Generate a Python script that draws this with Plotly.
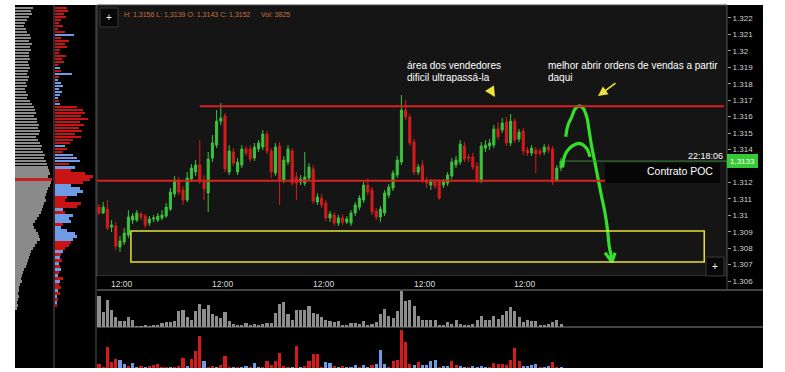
import plotly.graph_objects as go

W, H = 785, 372

# ---------------- data ----------------
candle_idx = list(range(111))
opens = [1.31050, 1.31014, 1.31038, 1.30929, 1.30935, 1.30807, 1.30838, 1.30880, 1.30971, 1.30971,
         1.31008, 1.30996, 1.30953, 1.30978, 1.30971, 1.30984, 1.30996, 1.31038, 1.31130, 1.31215,
         1.31154, 1.31093, 1.31221, 1.31263, 1.31306, 1.31209, 1.31136, 1.31348, 1.31427, 1.31573,
         1.31604, 1.31263, 1.31385, 1.31263, 1.31306, 1.31403, 1.31403, 1.31348, 1.31403, 1.31415,
         1.31494, 1.31391, 1.31257, 1.31421, 1.31215, 1.31324, 1.31391, 1.31233, 1.31203, 1.31196,
         1.31227, 1.31282, 1.31081, 1.31105, 1.31075, 1.30984, 1.31002, 1.30953, 1.30984, 1.30959,
         1.30953, 1.31014, 1.31050, 1.31093, 1.31184, 1.31154, 1.31026, 1.30990, 1.31014, 1.31123,
         1.31166, 1.31245, 1.31324, 1.31640, 1.31598, 1.31446, 1.31263, 1.31306, 1.31215, 1.31184,
         1.31203, 1.31203, 1.31184, 1.31196, 1.31239, 1.31306, 1.31324, 1.31421, 1.31354, 1.31354,
         1.31300, 1.31215, 1.31409, 1.31421, 1.31427, 1.31525, 1.31519, 1.31567, 1.31440, 1.31573,
         1.31464, 1.31513, 1.31397, 1.31379, 1.31397, 1.31391, 1.31385, 1.31415, 1.31403, 1.31215, 1.31288]
highs = [1.31069, 1.31081, 1.31093, 1.30971, 1.30959, 1.30874, 1.30923, 1.31032, 1.31014, 1.31032,
         1.31020, 1.31008, 1.30996, 1.31002, 1.31014, 1.31032, 1.31075, 1.31166, 1.31239, 1.31233,
         1.31178, 1.31263, 1.31312, 1.31336, 1.31458, 1.31245, 1.31385, 1.31488, 1.31640, 1.31683,
         1.31622, 1.31427, 1.31409, 1.31348, 1.31427, 1.31421, 1.31427, 1.31440, 1.31458, 1.31519,
         1.31513, 1.31409, 1.31440, 1.31446, 1.31361, 1.31427, 1.31409, 1.31263, 1.31245, 1.31385,
         1.31318, 1.31306, 1.31136, 1.31130, 1.31093, 1.31026, 1.31020, 1.31002, 1.31008, 1.30996,
         1.31032, 1.31081, 1.31123, 1.31203, 1.31227, 1.31172, 1.31044, 1.31057, 1.31154, 1.31190,
         1.31275, 1.31361, 1.31731, 1.31701, 1.31616, 1.31464, 1.31312, 1.31336, 1.31233, 1.31221,
         1.31221, 1.31221, 1.31221, 1.31263, 1.31348, 1.31361, 1.31458, 1.31446, 1.31373, 1.31379,
         1.31324, 1.31446, 1.31458, 1.31464, 1.31549, 1.31567, 1.31592, 1.31598, 1.31616, 1.31592,
         1.31525, 1.31531, 1.31415, 1.31427, 1.31415, 1.31409, 1.31433, 1.31433, 1.31421, 1.31306, 1.31348]
lows = [1.31002, 1.31008, 1.30911, 1.30898, 1.30789, 1.30777, 1.30820, 1.30862, 1.30947, 1.30959,
        1.30971, 1.30923, 1.30935, 1.30959, 1.30959, 1.30971, 1.30984, 1.31026, 1.31111, 1.31123,
        1.31063, 1.31081, 1.31203, 1.31239, 1.31190, 1.31093, 1.31020, 1.31324, 1.31409, 1.31549,
        1.31263, 1.31245, 1.31300, 1.31245, 1.31288, 1.31361, 1.31324, 1.31330, 1.31385, 1.31397,
        1.31373, 1.31227, 1.31239, 1.31063, 1.31196, 1.31306, 1.31178, 1.31093, 1.31184, 1.31178,
        1.31209, 1.31069, 1.31063, 1.31044, 1.30965, 1.30959, 1.30935, 1.30935, 1.30941, 1.30947,
        1.30935, 1.30996, 1.31032, 1.31075, 1.31123, 1.31002, 1.30971, 1.30959, 1.30996, 1.31105,
        1.31148, 1.31227, 1.31306, 1.31579, 1.31421, 1.31245, 1.31245, 1.31196, 1.31166, 1.31154,
        1.31160, 1.31093, 1.31166, 1.31178, 1.31221, 1.31288, 1.31306, 1.31324, 1.31324, 1.31275,
        1.31196, 1.31196, 1.31385, 1.31397, 1.31409, 1.31458, 1.31500, 1.31421, 1.31421, 1.31440,
        1.31446, 1.31367, 1.31361, 1.31361, 1.31257, 1.31361, 1.31367, 1.31379, 1.31184, 1.31203, 1.31269]
closes = [1.31014, 1.31050, 1.30923, 1.30941, 1.30813, 1.30844, 1.30892, 1.30990, 1.30996, 1.31014,
          1.30990, 1.30941, 1.30978, 1.30984, 1.30996, 1.31002, 1.31050, 1.31142, 1.31215, 1.31142,
          1.31093, 1.31227, 1.31288, 1.31306, 1.31209, 1.31160, 1.31342, 1.31440, 1.31573, 1.31592,
          1.31282, 1.31391, 1.31318, 1.31324, 1.31403, 1.31379, 1.31342, 1.31415, 1.31440, 1.31494,
          1.31391, 1.31263, 1.31415, 1.31215, 1.31336, 1.31403, 1.31196, 1.31196, 1.31221, 1.31233,
          1.31294, 1.31087, 1.31111, 1.31063, 1.30984, 1.31008, 1.30953, 1.30984, 1.30959, 1.30978,
          1.31014, 1.31063, 1.31105, 1.31184, 1.31142, 1.31020, 1.30990, 1.31038, 1.31136, 1.31172,
          1.31257, 1.31336, 1.31640, 1.31598, 1.31440, 1.31263, 1.31294, 1.31215, 1.31196, 1.31203,
          1.31178, 1.31105, 1.31203, 1.31245, 1.31324, 1.31336, 1.31433, 1.31342, 1.31348, 1.31294,
          1.31215, 1.31421, 1.31427, 1.31440, 1.31525, 1.31476, 1.31561, 1.31440, 1.31573, 1.31458,
          1.31506, 1.31391, 1.31379, 1.31409, 1.31373, 1.31379, 1.31415, 1.31397, 1.31203, 1.31288, 1.31330]
volume = [92, 45, 82, 52, 29, 17, 19, 30, 22, 3,
          3, 4, 3, 5, 7, 12, 14, 14, 17, 47,
          50, 30, 22, 47, 69, 54, 65, 40, 32, 27,
          45, 19, 9, 7, 5, 11, 6, 9, 7, 9,
          11, 11, 42, 69, 75, 39, 22, 52, 50, 50,
          62, 42, 39, 29, 22, 17, 15, 19, 5, 7,
          11, 11, 9, 19, 5, 9, 15, 39, 54, 34,
          27, 49, 107, 77, 82, 62, 32, 20, 22, 20,
          20, 5, 7, 16, 9, 22, 9, 5, 7, 10,
          20, 34, 22, 22, 34, 25, 35, 49, 59, 47,
          29, 14, 20, 17, 17, 5, 5, 9, 14, 22, 9]
delta = [-12, -2, -62, -19, -27, 23, 12, -4, 15, 2,
         -4, 2, -6, -10, -12, -2, -3, 3, -2, -4,
         -31, 4, -27, -52, -96, 22, -3, -5, 2, -9,
         -37, -2, 2, -2, 3, 4, -2, 14, 2, -2,
         -21, -9, -20, -44, -6, -2, 2, -66, 2, -6,
         -22, -42, -42, -3, 18, 14, -6, 2, -4, 2,
         3, 10, -2, 10, 2, -9, 12, 54, 12, -3,
         -22, -24, -114, -79, -12, 9, -19, 8, 8, 21,
         23, -2, 4, 6, -22, -9, 7, 2, -2, 4,
         2, 5, 2, -2, -15, -13, -12, -10, -24, -60,
         -22, 5, 6, 10, 12, -2, 2, 4, -19, -3, 2]
profile_rows = list(range(101))
profile_volume = [18, 16, 17, 14, 12, 10, 9, 11, 12, 15,
                  16, 14, 17, 15, 16, 14, 14, 15, 13, 14,
                  15, 13, 12, 14, 13, 11, 12, 10, 11, 13,
                  12, 15, 17, 19, 20, 21, 19, 22, 22, 24,
                  23, 25, 24, 21, 23, 25, 27, 26, 28, 30,
                  29, 31, 32, 33, 34, 35, 33, 37, 36, 35,
                  33, 32, 31, 30, 31, 29, 28, 27, 26, 24,
                  22, 20, 18, 19, 21, 23, 24, 25, 22, 20,
                  18, 16, 15, 14, 13, 12, 11, 9, 8, 7,
                  6, 7, 5, 4, 4, 3, 4, 3, 2, 3, 2]
profile_delta = [-12, -13, -9, -11, -6, -4, -8, -3, -10, 19,
                 -6, -14, -10, -12, -5, -4, -11, -7, -9, -3,
                 5, -6, 17, -4, 3, 6, 8, 4, 7, 5,
                 3, -4, 5, -22, -28, -30, -26, -33, -25, -29,
                 -24, -27, -20, -26, -18, -15, 10, -12, -8, 18,
                 22, 25, -14, 20, -16, -30, -38, -35, -28, 16,
                 25, 28, 22, -12, -10, -26, -22, 8, -10, 18,
                 14, 16, -8, 6, 12, 20, 22, 18, -16, -14,
                 -10, 8, -6, 5, -7, 4, -5, 6, -4, 3,
                 -8, 5, -4, -6, 3, -5, 2, -3, 2, -2, 0]
time_tick_pos = [5.5, 29.5, 53.5, 77.5, 101.5]
time_tick_text = ["12:00", "12:00", "12:00", "12:00", "12:00"]
# 1.313 is hidden behind the last-price label in the reference
price_ticks = [1.306, 1.307, 1.308, 1.309, 1.310, 1.311, 1.312, 1.314,
               1.315, 1.316, 1.317, 1.318, 1.319, 1.320, 1.321, 1.322]
price_tick_text = ["1.306", "1.307", "1.308", "1.309", "1.31", "1.311", "1.312", "1.314",
                   "1.315", "1.316", "1.317", "1.318", "1.319", "1.32", "1.321", "1.322"]
resistance_level = 1.31663
resistance_span = (24.0, 148.8)
support_level = 1.31211
support_span = (-0.48, 120.5)
zone_low, zone_high = 1.30716, 1.30905
zone_span = (7.6, 144.1)
last_price = 1.3133
last_price_label = "1,3133"
last_line_start = 111.0
# hand-drawn green scenario (candle index, price)
scenario_main_x = [111.12, 111.67, 112.55, 113.33, 114.29, 115.24, 116.12, 116.67, 117.31, 118.1,
                   118.88, 119.69, 120.48, 121.07, 121.5, 121.9, 122.14]
scenario_main_y = [1.31478, 1.31549, 1.31599, 1.31646, 1.31665, 1.31652, 1.31599, 1.31519, 1.31417, 1.31318,
                   1.31215, 1.31111, 1.31014, 1.30911, 1.30809, 1.30759, 1.30722]
scenario_alt_x = [110.4, 110.71, 111.36, 112.62, 114.36, 116.12, 116.9]
scenario_alt_y = [1.31292, 1.31348, 1.31387, 1.31421, 1.31438, 1.31407, 1.31356]
arrowhead_x = [120.48, 122.14, 122.86]
arrowhead_y = [1.30773, 1.30716, 1.30773]

GREEN = "#3cc43c"
RED = "#d41c1c"
BLUE = "#6f9be6"
FONT = "Liberation Sans, Arial, sans-serif"


def px(x):
    return x / W


def py(y):
    return 1 - y / H


fig = go.Figure()

fig.add_trace(go.Candlestick(
    x=candle_idx, open=opens, high=highs, low=lows, close=closes,
    increasing=dict(line=dict(color=GREEN, width=1), fillcolor=GREEN),
    decreasing=dict(line=dict(color=RED, width=1), fillcolor=RED),
    whiskerwidth=0, hoverinfo="skip", showlegend=False, xaxis="x", yaxis="y"))

fig.add_trace(go.Bar(x=candle_idx, y=volume, marker=dict(color="#8e8e8e", line=dict(width=0)),
                     width=0.72, xaxis="x2", yaxis="y2", showlegend=False, hoverinfo="skip"))

fig.add_trace(go.Bar(x=candle_idx, y=[abs(d) for d in delta],
                     marker=dict(color=[BLUE if d > 0 else RED for d in delta], line=dict(width=0)),
                     width=0.72, xaxis="x3", yaxis="y3", showlegend=False, hoverinfo="skip"))

poc_row = profile_volume.index(max(profile_volume))
fig.add_trace(go.Bar(y=profile_rows, x=profile_volume, orientation="h",
                     marker=dict(color=["#c81e1e" if r == poc_row else "#8a8a8a" for r in profile_rows],
                                 line=dict(width=0)),
                     width=0.66, xaxis="x4", yaxis="y4", showlegend=False, hoverinfo="skip"))
fig.add_trace(go.Bar(y=profile_rows, x=[abs(v) for v in profile_delta], orientation="h",
                     marker=dict(color=[BLUE if v > 0 else "#c81414" for v in profile_delta], line=dict(width=0)),
                     width=0.66, xaxis="x5", yaxis="y5", showlegend=False, hoverinfo="skip"))

# hand drawn scenario
for xs, ys in [(scenario_main_x, scenario_main_y), (scenario_alt_x, scenario_alt_y), (arrowhead_x, arrowhead_y)]:
    fig.add_trace(go.Scatter(x=xs, y=ys, mode="lines",
                             line=dict(color="#35e02a", width=3.2, shape="spline" if len(xs) > 3 else "linear"),
                             xaxis="x", yaxis="y", showlegend=False, hoverinfo="skip"))

shapes = []


def rect(x0, y0, x1, y1, fill, line=None, lw=0, layer="below"):
    shapes.append(dict(type="rect", xref="paper", yref="paper", x0=px(x0), x1=px(x1), y0=py(y1), y1=py(y0),
                       fillcolor=fill, line=dict(color=line or fill, width=lw), layer=layer))


def hline(x0, x1, y, color, lw=1, layer="below"):
    shapes.append(dict(type="line", xref="paper", yref="paper", x0=px(x0), x1=px(x1), y0=py(y), y1=py(y),
                       line=dict(color=color, width=lw), layer=layer))


def vline(x, y0, y1, color, lw=1, layer="below"):
    shapes.append(dict(type="line", xref="paper", yref="paper", x0=px(x), x1=px(x), y0=py(y0), y1=py(y1),
                       line=dict(color=color, width=lw), layer=layer))


rect(15, 5, 97, 368, "#000000")
rect(97, 5, 727, 276, "#151515", "#4a4a4a", 1)
rect(97, 276, 727, 290, "#000000")
rect(727, 5, 763, 290, "#000000")
rect(97, 290, 763, 368, "#000000")
hline(97, 763, 290, "#5a5a5a", 1.5)
hline(97, 763, 327, "#5a5a5a", 1.5)
vline(727, 5, 290, "#4a4a4a", 1)
vline(54, 5, 368, "#555555", 1, "above")
vline(96, 5, 368, "#555555", 1, "above")

# data-anchored drawings
shapes.append(dict(type="line", xref="x", yref="y", x0=resistance_span[0], x1=resistance_span[1],
                   y0=resistance_level, y1=resistance_level, line=dict(color="#d82222", width=2), layer="above"))
shapes.append(dict(type="line", xref="x", yref="y", x0=support_span[0], x1=support_span[1],
                   y0=support_level, y1=support_level, line=dict(color="#d82222", width=2), layer="above"))
shapes.append(dict(type="rect", xref="x", yref="y", x0=zone_span[0], x1=zone_span[1],
                   y0=zone_low, y1=zone_high, line=dict(color="#e6e03a", width=1.5), fillcolor="rgba(0,0,0,0)",
                   layer="above"))
shapes.append(dict(type="line", xref="x", yref="y", x0=last_line_start, x1=149.5,
                   y0=last_price, y1=last_price, line=dict(color="#3a8a3a", width=1), layer="above"))

# overlay boxes
rect(605, 163, 720, 183, "#060606", layer="above")
rect(727, 154, 758, 168, "#36c936", layer="above")
rect(100, 8, 118, 27, "#080808", "#3a3a3a", 1, layer="above")
rect(706, 257, 724, 276, "#080808", "#3a3a3a", 1, layer="above")

annotations = []


def text(x, y, s, size=10, color="#ffffff", xanchor="left", yanchor="middle"):
    annotations.append(dict(x=px(x), y=py(y), xref="paper", yref="paper", text=s, showarrow=False,
                            xanchor=xanchor, yanchor=yanchor, font=dict(family=FONT, size=size, color=color)))


for pos, lab in zip(time_tick_pos, time_tick_text):
    annotations.append(dict(x=pos, y=py(283.5), xref="x", yref="paper", text=lab, showarrow=False,
                            xanchor="center", yanchor="middle", font=dict(family=FONT, size=8.5, color="#dcdcdc")))

text(122, 15, "H: 1,3156 L: 1,3139 O: 1,3143 C: 1,3152", 7, "#c8703e")
text(259, 15, "Vol: 3825", 7, "#c8703e")
text(109, 17.5, "+", 10, "#ffffff", "center")
text(715, 266.5, "+", 10, "#ffffff", "center")
text(405, 65.5, "área dos vendedores", 10)
text(405, 77, "dificil ultrapassá-la", 10)
text(546, 65.5, "melhor abrir ordens de vendas a partir", 10)
text(546, 77, "daqui", 10)
text(645, 171.5, "Contrato POC", 10.5)
text(725, 155.5, "22:18:06", 9, "#ffffff", "right")
text(742.5, 161, last_price_label, 8, "#ffffff", "center")

# yellow arrows
annotations.append(dict(x=px(495), y=py(97), xref="paper", yref="paper", ax=-5, ay=-8, axref="pixel",
                        ayref="pixel", text="", showarrow=True, arrowhead=2, arrowsize=1.3, arrowwidth=1.6,
                        arrowcolor="#f0e23c"))
annotations.append(dict(x=px(598), y=py(96), xref="paper", yref="paper", ax=19, ay=-14, axref="pixel",
                        ayref="pixel", text="", showarrow=True, arrowhead=2, arrowsize=1.2, arrowwidth=1.6,
                        arrowcolor="#f0e23c"))

hidden = dict(showgrid=False, zeroline=False, showticklabels=False, ticks="", showline=False, fixedrange=True)
xdom = [px(97), px(727)]
xrange_ = [-0.476, 149.52]

fig.update_layout(
    width=W, height=H, margin=dict(l=0, r=0, t=0, b=0),
    paper_bgcolor="#ffffff", plot_bgcolor="rgba(0,0,0,0)",
    font=dict(family=FONT), showlegend=False, bargap=0,
    shapes=shapes, annotations=annotations,
    xaxis=dict(domain=xdom, range=xrange_, anchor="y", rangeslider=dict(visible=False), **hidden),
    yaxis=dict(domain=[py(290), py(5)], range=[1.30546, 1.32279], anchor="x", side="right",
               tickvals=price_ticks, ticktext=price_tick_text, ticks="outside", ticklen=3, tickcolor="#9a9a9a",
               tickfont=dict(family=FONT, size=8, color="#d0d0d0"), showgrid=False, zeroline=False,
               showline=False, fixedrange=True),
    xaxis2=dict(domain=xdom, range=xrange_, anchor="y2", **hidden),
    yaxis2=dict(domain=[py(327), py(290)], range=[0, 111], anchor="x2", **hidden),
    xaxis3=dict(domain=xdom, range=xrange_, anchor="y3", **hidden),
    yaxis3=dict(domain=[py(368), py(327)], range=[0, 123], anchor="x3", **hidden),
    xaxis4=dict(domain=[px(15), px(54)], range=[0, 39], anchor="y4", **hidden),
    yaxis4=dict(domain=[py(368), py(5)], range=[119.83, -1.167], anchor="x4", **hidden),
    xaxis5=dict(domain=[px(55), px(96)], range=[0, 41], anchor="y5", **hidden),
    yaxis5=dict(domain=[py(368), py(5)], range=[119.83, -1.167], anchor="x5", **hidden),
)

fig.write_html("out.html")
